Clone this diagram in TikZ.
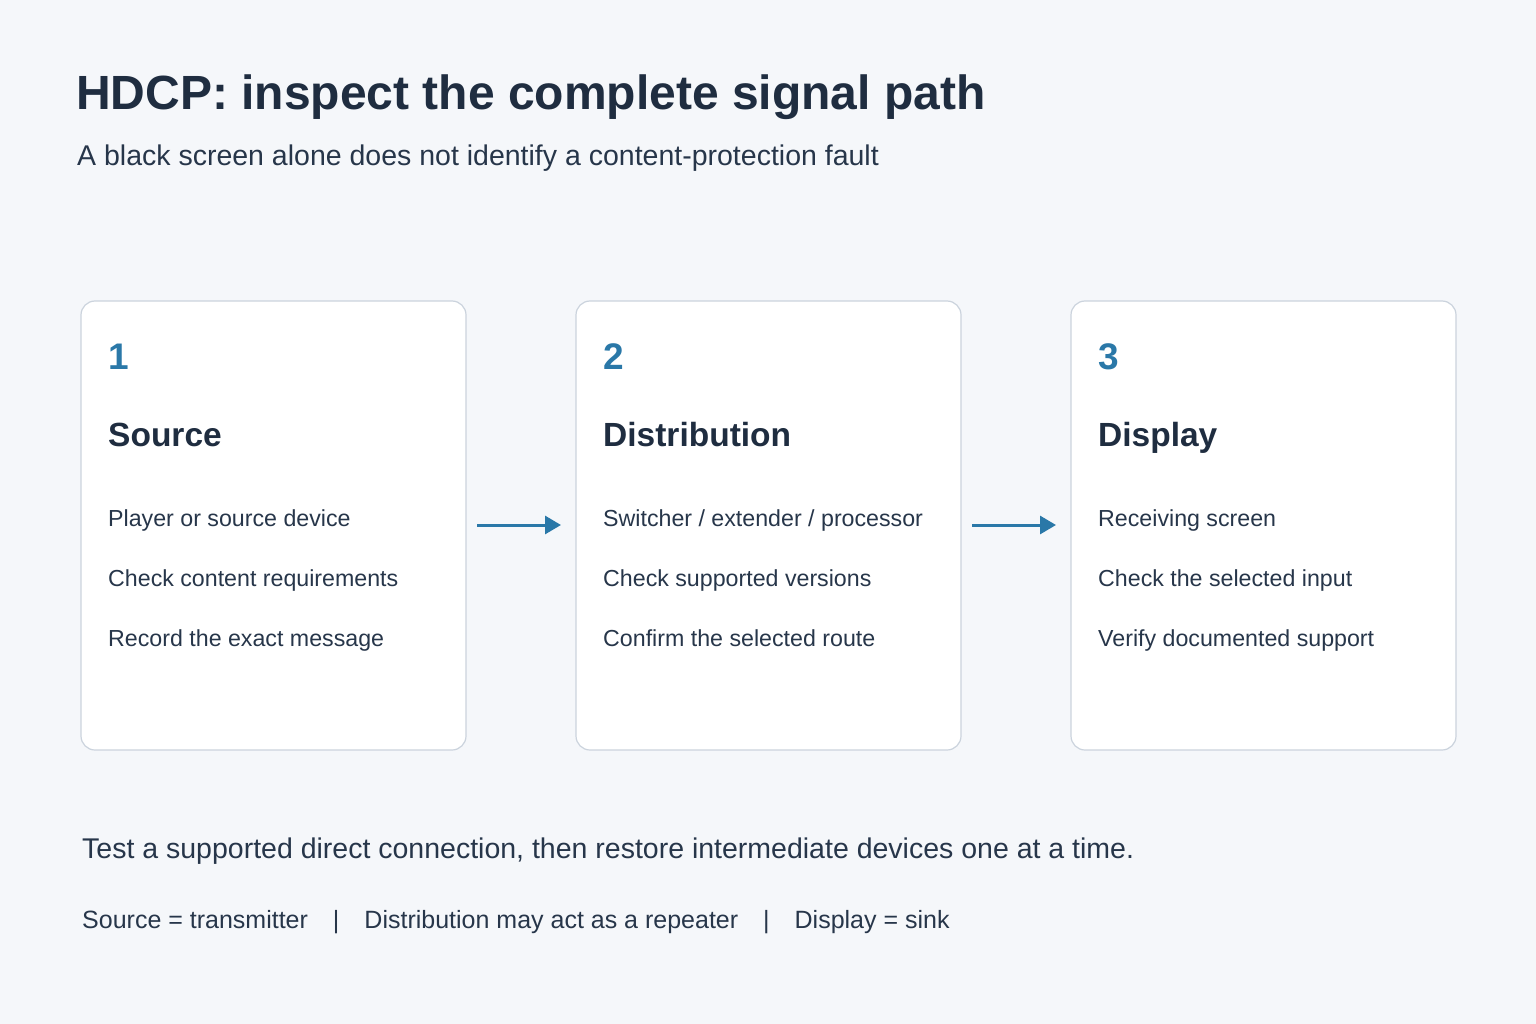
\documentclass[tikz,border=0pt]{standalone}
\usepackage{fontspec}
\setmainfont{Liberation Sans}
\usetikzlibrary{arrows.meta}
\definecolor{bg}{HTML}{F5F7FA}
\definecolor{ink}{HTML}{1F2D40}
\definecolor{txt}{HTML}{27364A}
\definecolor{acc}{HTML}{2A78A8}
\definecolor{bd}{HTML}{CBD3DD}
\begin{document}
\begin{tikzpicture}[x=1pt,y=-1pt,
  card/.style={draw=bd,line width=1.2pt,fill=white,rounded corners=14pt},
  num/.style={anchor=base west,inner sep=0,text=acc,font=\fontsize{37}{40}\selectfont\bfseries},
  ttl/.style={anchor=base west,inner sep=0,text=ink,font=\fontsize{33.5}{36}\selectfont\bfseries},
  item/.style={anchor=base west,inner sep=0,text=txt,font=\fontsize{23.2}{26}\selectfont},
  arr/.style={draw=acc,line width=3pt,-{Triangle[length=16pt,width=18pt]}}]
\fill[bg] (0,0) rectangle (1536,1024);
\node[anchor=base west,inner sep=0,text=ink,font=\fontsize{48}{52}\selectfont\bfseries] (title) at (76,110) {HDCP: inspect the complete signal path};
\node[anchor=base west,inner sep=0,text=txt,font=\fontsize{28.5}{30}\selectfont] (sub) at (77,166) {A black screen alone does not identify a content-protection fault};
\foreach \i/\x/\n/\t/\a/\b/\c in {1/81/1/Source/{Player or source device}/{Check content requirements}/{Record the exact message},
  2/576/2/Distribution/{Switcher / extender / processor}/{Check supported versions}/{Confirm the selected route},
  3/1071/3/Display/{Receiving screen}/{Check the selected input}/{Verify documented support}}{
  \draw[card] (\x,301) rectangle ++(385,449);
  \node[num] (n\i) at (\x+27,369) {\n};
  \node[ttl] (t\i) at (\x+27,446) {\t};
  \node[item] (a\i) at (\x+27,526) {\a};
  \node[item] (b\i) at (\x+27,586) {\b};
  \node[item] (d\i) at (\x+27,646) {\c};
}
\coordinate (p1) at (477,525); \coordinate (q1) at (561,525);
\coordinate (p2) at (972,525); \coordinate (q2) at (1056,525);
\draw[arr] (p1) -- (q1);
\draw[arr] (p2) -- (q2);
\node[anchor=base west,inner sep=0,text=txt,font=\fontsize{28.5}{30}\selectfont] (f1) at (82,858) {Test a supported direct connection, then restore intermediate devices one at a time.};
\node[anchor=base west,inner sep=0,text=txt,font=\fontsize{25}{28}\selectfont] (f2) at (82,928) {Source = transmitter\quad|\quad Distribution may act as a repeater\quad|\quad Display = sink};
\end{tikzpicture}
\end{document}
